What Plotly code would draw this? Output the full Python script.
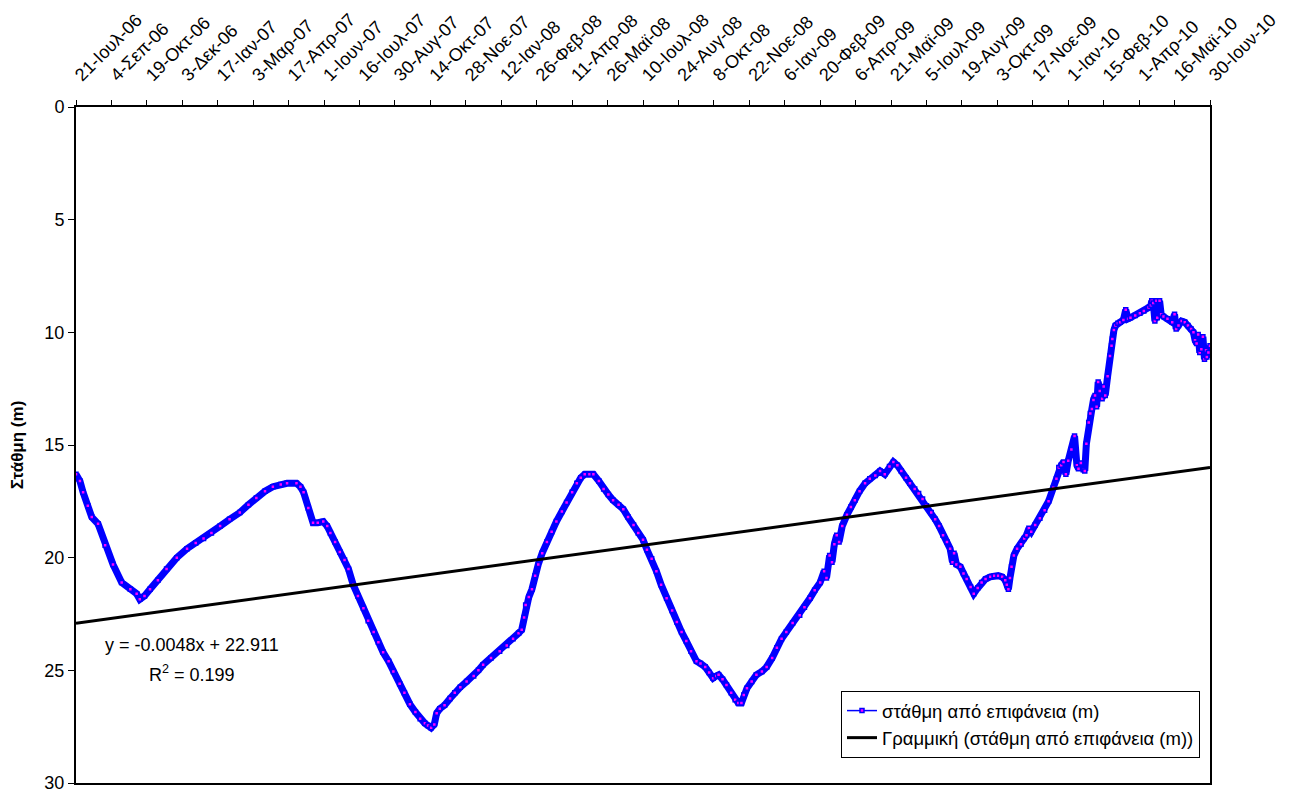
import pandas as pd
import plotly.graph_objects as go

# ---------------- data ----------------
start_date = "2006-07-21"
end_date = "2010-06-30"

# days since 21-Jul-2006
days_since_start = [
    0, 5, 9, 15, 20, 28, 37, 47, 58, 69, 77, 81, 87, 94, 104, 115, 128, 141, 152, 162,
    172, 183, 195, 208, 219, 229, 240, 250, 260, 268, 280, 285, 289, 295, 301, 307, 314, 319, 323, 329,
    335, 341, 346, 352, 358, 365, 371, 378, 384, 390, 397, 403, 411, 417, 424, 431, 437, 443, 447, 451,
    455, 458, 462, 468, 475, 481, 488, 496, 505, 511, 517, 527, 538, 547, 555, 562, 566, 569, 571, 575,
    579, 583, 587, 592, 598, 604, 610, 617, 623, 630, 636, 641, 646, 652, 657, 664, 670, 676, 682, 689,
    695, 701, 708, 714, 720, 725, 731, 737, 743, 750, 757, 763, 769, 775, 781, 788, 793, 799, 804, 809,
    813, 816, 821, 826, 832, 837, 841, 845, 848, 852, 858, 864, 871, 877, 884, 890, 896, 902, 910, 919,
    925, 932, 938, 945, 950, 953, 957, 960, 963, 966, 969, 973, 979, 984, 989, 995, 1002, 1008, 1015, 1021,
    1027, 1033, 1038, 1043, 1048, 1054, 1059, 1065, 1070, 1075, 1080, 1086, 1091, 1096, 1101, 1106, 1110, 1113, 1115, 1118,
    1123, 1127, 1131, 1136, 1140, 1145, 1150, 1155, 1161, 1166, 1171, 1176, 1180, 1182, 1184, 1186, 1188, 1191, 1195, 1200,
    1204, 1207, 1210, 1213, 1218, 1224, 1230, 1235, 1241, 1245, 1248, 1251, 1254, 1257, 1260, 1264, 1268, 1271, 1273, 1276,
    1279, 1281, 1283, 1286, 1288, 1290, 1292, 1294, 1296, 1298, 1300, 1303, 1305, 1307, 1310, 1313, 1315, 1316, 1318, 1320,
    1323, 1326, 1330, 1333, 1336, 1339, 1345, 1351, 1356, 1362, 1365, 1366, 1368, 1370, 1372, 1373, 1376, 1378, 1381, 1386,
    1392, 1395, 1397, 1400, 1404, 1408, 1412, 1416, 1419, 1421, 1423, 1425, 1427, 1429, 1431, 1433, 1435, 1436, 1438, 1440,
]

# water level below surface (m)
level_m = [
    16.3, 16.6, 17.1, 17.7, 18.2, 18.5, 19.45, 20.3, 21.1, 21.4, 21.6, 21.85, 21.7, 21.4, 21.0, 20.5, 20.0, 19.6, 19.35, 19.15,
    18.9, 18.6, 18.3, 18.0, 17.65, 17.35, 17.05, 16.85, 16.75, 16.7, 16.7, 16.85, 17.1, 17.8, 18.45, 18.45, 18.4, 18.6, 18.9, 19.3,
    19.75, 20.1, 20.5, 21.2, 21.7, 22.25, 22.8, 23.3, 23.75, 24.2, 24.6, 25.05, 25.6, 26.0, 26.5, 26.85, 27.15, 27.35, 27.45, 27.55,
    27.4, 26.9, 26.7, 26.55, 26.25, 26.0, 25.75, 25.5, 25.25, 25.0, 24.75, 24.45, 24.15, 23.9, 23.6, 23.35, 23.2, 22.65, 22.1, 21.75,
    21.4, 20.8, 20.3, 19.8, 19.3, 18.85, 18.4, 17.95, 17.55, 17.1, 16.7, 16.45, 16.3, 16.3, 16.3, 16.6, 16.95, 17.2, 17.45, 17.65,
    17.85, 18.2, 18.55, 18.9, 19.2, 19.65, 20.05, 20.6, 21.2, 21.8, 22.35, 22.85, 23.3, 23.7, 24.15, 24.6, 24.7, 24.85, 25.1, 25.35,
    25.25, 25.2, 25.4, 25.65, 26.0, 26.3, 26.45, 26.45, 26.1, 25.8, 25.5, 25.2, 25.05, 24.85, 24.45, 24.0, 23.6, 23.3, 22.9, 22.55,
    22.2, 21.8, 21.45, 21.1, 20.6, 20.9, 19.9, 20.2, 19.4, 19.0, 19.3, 18.6, 18.1, 17.75, 17.45, 17.05, 16.7, 16.5, 16.35, 16.15,
    16.3, 15.95, 15.75, 15.9, 16.15, 16.45, 16.7, 16.95, 17.15, 17.4, 17.7, 18.0, 18.3, 18.6, 19.0, 19.3, 19.6, 20.2, 19.8, 20.3,
    20.4, 20.7, 20.95, 21.3, 21.6, 21.35, 21.1, 20.95, 20.85, 20.8, 20.8, 20.85, 21.0, 21.2, 21.4, 20.9, 20.4, 19.9, 19.6, 19.4,
    19.15, 19.0, 18.7, 18.85, 18.55, 18.25, 17.9, 17.5, 16.9, 16.5, 16.0, 15.9, 15.75, 16.3, 15.7, 15.2, 14.6, 15.9, 16.05, 15.8,
    16.1, 16.15, 14.95, 14.0, 13.6, 13.4, 13.0, 12.8, 13.3, 12.2, 12.6, 12.95, 12.4, 12.8, 11.95, 11.05, 10.6, 10.3, 9.9, 9.7,
    9.6, 9.55, 9.45, 9.0, 9.4, 9.35, 9.25, 9.15, 9.05, 8.9, 8.8, 8.6, 8.7, 9.5, 8.6, 9.35, 8.6, 9.2, 9.3, 9.4,
    9.55, 9.2, 9.85, 9.7, 9.5, 9.55, 9.7, 9.85, 10.0, 10.35, 10.5, 10.1, 10.9, 10.75, 10.2, 11.2, 10.8, 11.1, 10.9, 10.6,
]

# linear trendline as printed on the chart (x = point index, daily points)
trend_slope = -0.0048
trend_intercept = 22.911

tick_labels = [
    "21-Ιουλ-06", "4-Σεπ-06", "19-Οκτ-06", "3-Δεκ-06", "17-Ιαν-07", "3-Μαρ-07", "17-Απρ-07",
    "1-Ιουν-07", "16-Ιουλ-07", "30-Αυγ-07", "14-Οκτ-07", "28-Νοε-07", "12-Ιαν-08", "26-Φεβ-08",
    "11-Απρ-08", "26-Μαϊ-08", "10-Ιουλ-08", "24-Αυγ-08", "8-Οκτ-08", "22-Νοε-08", "6-Ιαν-09",
    "20-Φεβ-09", "6-Απρ-09", "21-Μαϊ-09", "5-Ιουλ-09", "19-Αυγ-09", "3-Οκτ-09", "17-Νοε-09",
    "1-Ιαν-10", "15-Φεβ-10", "1-Απρ-10", "16-Μαϊ-10", "30-Ιουν-10",
]
tick_step_days = 45

series_name = "στάθμη από επιφάνεια (m)"
trend_name = "Γραμμική (στάθμη από επιφάνεια (m))"
y_title = "Στάθμη (m)"

# ---------------- build ----------------
t0 = pd.Timestamp(start_date)
t1 = pd.Timestamp(end_date)
dates = [t0 + pd.Timedelta(days=d) for d in days_since_start]
tick_vals = [t0 + pd.Timedelta(days=tick_step_days * i) for i in range(len(tick_labels))]

n_points = (t1 - t0).days + 1
trend_x = [t0, t1]
trend_y = [trend_intercept + trend_slope * 1, trend_intercept + trend_slope * n_points]

FONT = "Liberation Sans, Arial, sans-serif"

fig = go.Figure()

# thick band (dense daily markers in the original)
fig.add_trace(go.Scatter(
    x=dates, y=level_m, mode="lines",
    line=dict(color="#0000FF", width=7),
    showlegend=False, hoverinfo="skip",
))
fig.add_trace(go.Scatter(
    x=dates, y=level_m, mode="lines+markers", name=series_name,
    line=dict(color="#0000FF", width=1.5),
    marker=dict(symbol="square", size=4, color="#FF00FF",
                line=dict(color="#0000FF", width=1.5)),
))
fig.add_trace(go.Scatter(
    x=trend_x, y=trend_y, mode="lines", name=trend_name,
    line=dict(color="black", width=3),
))

fig.add_annotation(
    x=0.1023, y=0.2035, xref="paper", yref="paper", xanchor="center", yanchor="middle",
    text="y = -0.0048x + 22.911", showarrow=False,
    font=dict(family=FONT, size=18, color="black"),
)
fig.add_annotation(
    x=0.1023, y=0.162, xref="paper", yref="paper", xanchor="center", yanchor="middle",
    text="R<sup>2</sup> = 0.199", showarrow=False,
    font=dict(family=FONT, size=18, color="black"),
)

fig.update_layout(
    width=1283, height=784,
    margin=dict(l=68, r=81, t=99, b=9, autoexpand=False),
    paper_bgcolor="white", plot_bgcolor="white",
    font=dict(family=FONT, color="black"),
    legend=dict(
        x=0.6746, y=0.136, xanchor="left", yanchor="top",
        bgcolor="white", bordercolor="black", borderwidth=1,
        font=dict(family=FONT, size=18.5), tracegroupgap=0,
    ),
    xaxis=dict(
        type="date", side="top", automargin=False,
        range=[t0, t1],
        tickmode="array", tickvals=tick_vals, ticktext=tick_labels,
        tickangle=-45, tickfont=dict(family=FONT, size=18),
        ticks="outside", ticklen=5, tickcolor="black", ticklabelstandoff=8,
        ticklabeloverflow="allow",
        showline=True, linecolor="black", linewidth=2, mirror=True,
        showgrid=False, zeroline=False,
    ),
    yaxis=dict(
        range=[30, 0], tickmode="linear", tick0=0, dtick=5, automargin=False,
        tickfont=dict(family=FONT, size=18),
        ticks="outside", ticklen=6, tickcolor="black",
        ticklabeloverflow="allow",
        showline=True, linecolor="black", linewidth=2, mirror=True,
        showgrid=False, zeroline=False,
        title=dict(text="<b>" + y_title + "</b>", font=dict(family=FONT, size=17), standoff=20),
    ),
)

fig.write_html("out.html")
